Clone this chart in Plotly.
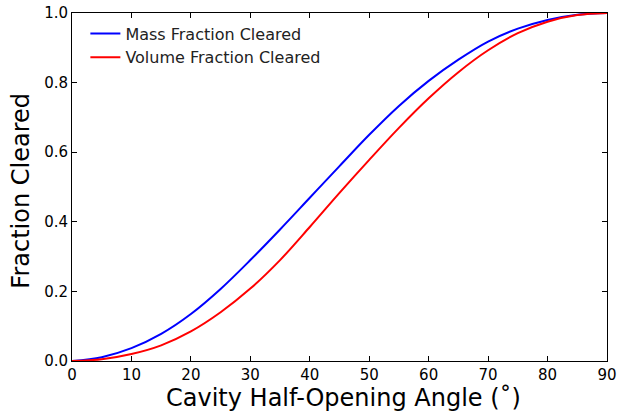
import plotly.graph_objects as go

angle_deg = [0, 5, 10, 15, 20, 25, 30, 35, 40, 45, 50, 55, 60, 65, 70, 75, 80, 85, 90]
mass_fraction = [0, 0.011, 0.037, 0.078, 0.135, 0.207, 0.29, 0.378, 0.469, 0.56, 0.65,
                 0.733, 0.805, 0.866, 0.918, 0.955, 0.98, 0.995, 1.0]
volume_fraction = [0, 0.005, 0.02, 0.045, 0.085, 0.14, 0.208, 0.29, 0.385, 0.483, 0.578,
                   0.67, 0.755, 0.83, 0.893, 0.942, 0.975, 0.994, 1.0]
x_ticks = [0, 10, 20, 30, 40, 50, 60, 70, 80, 90]
y_ticks = [0.0, 0.2, 0.4, 0.6, 0.8, 1.0]

FONT = "DejaVu Sans"

fig = go.Figure()
fig.add_trace(go.Scatter(x=angle_deg, y=mass_fraction, mode="lines",
                         name="Mass Fraction Cleared",
                         line=dict(color="#0000ff", width=2, shape="spline", smoothing=1.0)))
fig.add_trace(go.Scatter(x=angle_deg, y=volume_fraction, mode="lines",
                         name="Volume Fraction Cleared",
                         line=dict(color="#ff0000", width=2, shape="spline", smoothing=1.0)))

axis_common = dict(showline=True, linecolor="black", linewidth=1, mirror="ticks",
                   ticks="inside", ticklen=5, tickwidth=1, tickcolor="black",
                   showgrid=False, zeroline=False, automargin=False,
                   tickfont=dict(family=FONT, size=15, color="black"))

fig.update_xaxes(range=[0, 90], tickvals=x_ticks, ticktext=[str(v) for v in x_ticks],
                 **axis_common)
fig.update_yaxes(range=[0, 1], tickvals=y_ticks, ticktext=[f"{v:.1f}" for v in y_ticks],
                 **axis_common)

fig.add_annotation(text="Cavity Half-Opening Angle (˚)", xref="paper", yref="paper",
                   x=0.507, y=-0.152, xanchor="center", yanchor="bottom", showarrow=False,
                   font=dict(family=FONT, size=24, color="black"))
fig.add_annotation(text="Fraction Cleared", xref="paper", yref="paper",
                   x=-0.095, y=0.49, xanchor="center", yanchor="middle", showarrow=False,
                   textangle=-90, font=dict(family=FONT, size=24, color="black"))

fig.update_layout(
    width=618, height=413,
    margin=dict(l=72, r=11, t=13, b=52),
    paper_bgcolor="white", plot_bgcolor="white",
    showlegend=True,
    legend=dict(x=0.025, y=0.99, xanchor="left", yanchor="top",
                bgcolor="rgba(0,0,0,0)", borderwidth=0,
                font=dict(family=FONT, size=16, color="#222222"),
                tracegroupgap=0, itemwidth=30),
)

fig.write_html("out.html", config={"displayModeBar": False},
               post_script="document.body.style.margin='0';document.body.style.overflow='hidden';")
